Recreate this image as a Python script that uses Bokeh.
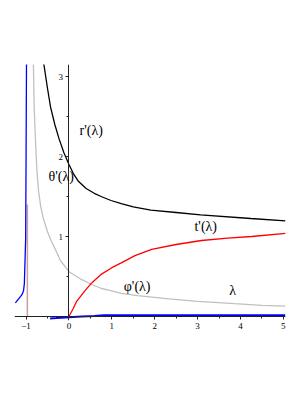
from bokeh.plotting import figure
from bokeh.models import LinearAxis, FixedTicker, Label, CustomJSTickFormatter
from bokeh.embed import file_html
from bokeh.resources import INLINE

# r'(lambda) – black
r_lam = [-0.59, -0.5, -0.43, -0.33, -0.23, -0.12, 0.0, 0.1, 0.22, 0.4, 0.59, 0.75, 0.98, 1.22, 1.5, 1.91, 2.5, 3.07, 4.24, 5.05]
r_val = [3.17, 2.85, 2.62, 2.4, 2.22, 2.05, 1.9, 1.79, 1.69, 1.6, 1.54, 1.5, 1.45, 1.41, 1.37, 1.33, 1.3, 1.27, 1.225, 1.195]

# phi'(lambda) – light gray
phi_lam = [-0.83, -0.81, -0.78, -0.75, -0.71, -0.66, -0.6, -0.5, -0.41, -0.3, -0.2, 0.0, 0.3, 0.53, 0.76, 1.0, 1.22, 1.6, 2.33, 3.0, 3.86, 4.5, 5.05]
phi_val = [3.17, 2.6, 2.19, 1.85, 1.57, 1.38, 1.23, 1.06, 0.94, 0.82, 0.7, 0.56, 0.46, 0.40, 0.35, 0.32, 0.29, 0.26, 0.22, 0.19, 0.16, 0.14, 0.13]

# t'(lambda) – red
t_lam = [0.0, 0.1, 0.18, 0.37, 0.53, 0.76, 1.0, 1.22, 1.54, 1.93, 2.5, 3.09, 3.7, 4.26, 5.05]
t_val = [0.0, 0.1, 0.19, 0.32, 0.42, 0.53, 0.61, 0.67, 0.76, 0.84, 0.9, 0.95, 0.98, 1.0, 1.04]
t_left_lam = [-0.97, -0.97]
t_left_val = [0.0, 1.4]

# theta'(lambda) – blue
th_left_lam = [-0.99, -1.0, -1.01, -1.03, -1.04, -1.06, -1.1, -1.16, -1.25]
th_left_val = [3.2, 2.0, 0.97, 0.6, 0.41, 0.32, 0.27, 0.23, 0.17]
th_right_lam = [-0.44, -0.3, -0.18, 0.0, 0.3, 0.59, 0.82, 1.0, 2.0, 3.0, 4.0, 5.05]
th_right_val = [-0.025, -0.02, -0.015, -0.01, 0.0, 0.006, 0.015, 0.016, 0.016, 0.016, 0.016, 0.016]

x_major = [-1, 0, 1, 2, 3, 4, 5]
x_minor = [-0.5, 0.5, 1.5, 2.5, 3.5, 4.5]
y_major = [1, 2, 3]
y_minor = [0.5, 1.5, 2.5]

p = figure(frame_width=271, frame_height=256,
           x_range=(-1.27, 5.05), y_range=(-0.05, 3.15),
           output_backend="svg", toolbar_location=None,
           x_axis_type=None, y_axis_type=None,
           min_border_left=14, min_border_top=64, min_border_right=8, min_border_bottom=52)
p.grid.visible = False
p.outline_line_color = None
p.background_fill_color = "white"

lw = 1.3
p.line(t_left_lam, t_left_val, line_color="#c8a0a0", line_width=1.5)
p.line(phi_lam, phi_val, line_color="#c0c0c0", line_width=lw)
p.line(r_lam, r_val, line_color="black", line_width=lw)
p.line(t_lam, t_val, line_color="#ff0000", line_width=lw)
p.line(th_left_lam, th_left_val, line_color="#0000ff", line_width=lw)
p.line(th_right_lam, th_right_val, line_color="#0000ff", line_width=2)

fmt = CustomJSTickFormatter(code="return tick < 0 ? '\\u2212' + (-tick).toString() : tick.toString();")

def style(ax):
    ax.axis_line_color = "#222222"
    ax.axis_line_width = 1
    ax.major_tick_line_color = "#222222"
    ax.minor_tick_line_color = "#222222"
    ax.major_tick_in = 0
    ax.major_tick_out = 3
    ax.minor_tick_in = 0
    ax.minor_tick_out = 2
    ax.major_label_text_font = "Liberation Serif"
    ax.major_label_text_font_size = "9px"
    ax.major_label_text_color = "black"
    ax.major_label_standoff = 3
    ax.formatter = fmt

# axis line and ticks crossing at the origin
xaxis = LinearAxis(ticker=FixedTicker(ticks=x_major, minor_ticks=x_minor),
                   fixed_location=0)
style(xaxis)
xaxis.major_label_text_alpha = 0
p.add_layout(xaxis, "below")

# x tick labels just below the frame
xlab = LinearAxis(ticker=FixedTicker(ticks=x_major, minor_ticks=[]))
style(xlab)
xlab.axis_line_color = None
xlab.major_tick_line_color = None
xlab.minor_tick_line_color = None
xlab.major_tick_out = 0
xlab.minor_tick_out = 0
xlab.major_label_standoff = 2
p.add_layout(xlab, "below")

yaxis = LinearAxis(ticker=FixedTicker(ticks=y_major, minor_ticks=y_minor),
                   fixed_location=0)
style(yaxis)
p.add_layout(yaxis, "left")

labels = [("r'(\u03bb)", 0.52, 2.33), ("\u03b8'(\u03bb)", -0.18, 1.75),
          ("t'(\u03bb)", 3.19, 1.13), ("\u03c6'(\u03bb)", 1.59, 0.38),
          ("\u03bb", 3.82, 0.32)]
for txt, lx, ly in labels:
    p.add_layout(Label(x=lx, y=ly, text=txt, text_font="Liberation Serif",
                       text_font_size="14px", text_color="black",
                       text_align="center", text_baseline="middle"))

open("out.html", "w").write(file_html(p, INLINE))
